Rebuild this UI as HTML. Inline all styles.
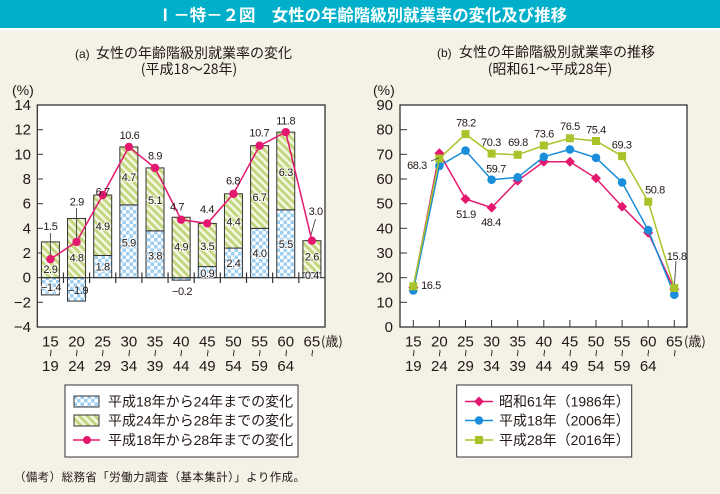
<!DOCTYPE html>
<html><head><meta charset="utf-8">
<style>
html,body{margin:0;padding:0;background:#f4f1e7;}
svg{display:block;}
text{font-family:"Liberation Sans","Noto Sans CJK JP",sans-serif;fill:#231815;}
.j{font-family:"Noto Sans CJK JP","Liberation Sans",sans-serif;}
.tk{font-size:15px;}
.dl{font-size:11px;letter-spacing:-0.4px;}
.in{font-size:11px;letter-spacing:-0.4px;stroke:#fff;stroke-width:2.2px;stroke-opacity:0.75;paint-order:stroke;}
.wv{font-size:13px;}
</style></head>
<body>
<svg width="720" height="494" viewBox="0 0 720 494" xmlns="http://www.w3.org/2000/svg">
<defs>
  <pattern id="chk" width="7" height="7" patternUnits="userSpaceOnUse">
    <rect width="7" height="7" fill="#ffffff"/>
    <rect x="0" y="0" width="3.5" height="3.5" fill="#9dcff2"/>
    <rect x="3.5" y="3.5" width="3.5" height="3.5" fill="#9dcff2"/>
  </pattern>
  <pattern id="str" width="6" height="5.5" patternUnits="userSpaceOnUse" patternTransform="rotate(45)">
    <rect width="6" height="5.5" fill="#f4f8e4"/>
    <rect x="0" y="0" width="6" height="3" fill="#c4d77f"/>
  </pattern>
</defs>

<!-- background & title -->
<rect x="0" y="0" width="720" height="494" fill="#f4f1e7"/>
<rect x="0" y="0" width="720" height="28" fill="#00b0ca"/>
<rect x="0" y="28" width="720" height="2.5" fill="#ffffff"/>
<text class="j" x="157" y="21" font-size="16.5" font-weight="bold" style="fill:#ffffff" textLength="410" lengthAdjust="spacingAndGlyphs">Ⅰ－特－２図　女性の年齢階級別就業率の変化及び推移</text>

<!-- subtitles -->
<text x="75" y="58" font-size="12">(a)</text>
<text class="j" x="96" y="58" font-size="14">女性の年齢階級別就業率の変化</text>
<text class="j" x="189" y="74" font-size="14" text-anchor="middle">(平成18～28年)</text>

<text x="437" y="57" font-size="12">(b)</text>
<text class="j" x="459" y="57" font-size="14">女性の年齢階級別就業率の推移</text>
<text class="j" x="550" y="74" font-size="14" text-anchor="middle">(昭和61～平成28年)</text>

<!-- ===== LEFT CHART ===== -->
<text x="12" y="95" font-size="14">(%)</text>
<rect x="37.3" y="105" width="287.7" height="222" fill="#ffffff"/>
<g class="tk" text-anchor="end">
  <text x="31" y="110">14</text>
  <text x="31" y="134.7">12</text>
  <text x="31" y="159.3">10</text>
  <text x="31" y="184">8</text>
  <text x="31" y="208.7">6</text>
  <text x="31" y="233.3">4</text>
  <text x="31" y="258">2</text>
  <text x="31" y="282.7">0</text>
  <text x="31" y="307.3">−2</text>
  <text x="31" y="332">−4</text>
</g>
<g stroke="#333" stroke-width="1">
  <line x1="37.3" y1="129.7" x2="43" y2="129.7"/>
  <line x1="37.3" y1="154.3" x2="43" y2="154.3"/>
  <line x1="37.3" y1="179" x2="43" y2="179"/>
  <line x1="37.3" y1="203.7" x2="43" y2="203.7"/>
  <line x1="37.3" y1="228.3" x2="43" y2="228.3"/>
  <line x1="37.3" y1="253" x2="43" y2="253"/>
  <line x1="37.3" y1="302.3" x2="43" y2="302.3"/>
</g>

<!-- bars -->
<g stroke="#333" stroke-width="1">
  <rect x="41.4" y="277.67" width="18" height="17.26" fill="url(#chk)"/>
  <rect x="41.4" y="241.9" width="18" height="35.77" fill="url(#str)"/>
  <rect x="67.55" y="277.67" width="18" height="23.43" fill="url(#chk)"/>
  <rect x="67.55" y="218.47" width="18" height="59.2" fill="url(#str)"/>
  <rect x="93.7" y="255.47" width="18" height="22.2" fill="url(#chk)"/>
  <rect x="93.7" y="195.04" width="18" height="60.43" fill="url(#str)"/>
  <rect x="119.85" y="204.9" width="18" height="72.77" fill="url(#chk)"/>
  <rect x="119.85" y="146.94" width="18" height="57.96" fill="url(#str)"/>
  <rect x="146" y="230.8" width="18" height="46.87" fill="url(#chk)"/>
  <rect x="146" y="167.91" width="18" height="62.89" fill="url(#str)"/>
  <rect x="172.15" y="277.67" width="18" height="2.47" fill="url(#chk)"/>
  <rect x="172.15" y="217.24" width="18" height="60.43" fill="url(#str)"/>
  <rect x="198.3" y="266.57" width="18" height="11.1" fill="url(#chk)"/>
  <rect x="198.3" y="223.4" width="18" height="43.17" fill="url(#str)"/>
  <rect x="224.45" y="248.07" width="18" height="29.6" fill="url(#chk)"/>
  <rect x="224.45" y="193.8" width="18" height="54.27" fill="url(#str)"/>
  <rect x="250.6" y="228.34" width="18" height="49.33" fill="url(#chk)"/>
  <rect x="250.6" y="145.7" width="18" height="82.64" fill="url(#str)"/>
  <rect x="276.75" y="209.84" width="18" height="67.83" fill="url(#chk)"/>
  <rect x="276.75" y="132.14" width="18" height="77.7" fill="url(#str)"/>
  <rect x="302.9" y="272.74" width="18" height="4.93" fill="url(#chk)"/>
  <rect x="302.9" y="240.67" width="18" height="32.07" fill="url(#str)"/>
</g>

<!-- zero line & category ticks -->
<g stroke="#333" stroke-width="1.2">
  <line x1="37.3" y1="277.67" x2="325" y2="277.67"/>
  <line x1="63.45" y1="272.5" x2="63.45" y2="283"/>
  <line x1="89.6" y1="272.5" x2="89.6" y2="283"/>
  <line x1="115.75" y1="272.5" x2="115.75" y2="283"/>
  <line x1="141.9" y1="272.5" x2="141.9" y2="283"/>
  <line x1="168.05" y1="272.5" x2="168.05" y2="283"/>
  <line x1="194.2" y1="272.5" x2="194.2" y2="283"/>
  <line x1="220.35" y1="272.5" x2="220.35" y2="283"/>
  <line x1="246.5" y1="272.5" x2="246.5" y2="283"/>
  <line x1="272.65" y1="272.5" x2="272.65" y2="283"/>
  <line x1="298.8" y1="272.5" x2="298.8" y2="283"/>
</g>
<rect x="37.3" y="105" width="287.7" height="222" fill="none" stroke="#333" stroke-width="1.3"/>

<!-- leader lines left -->
<g stroke="#444" stroke-width="0.9">
  <line x1="50.4" y1="233" x2="50.4" y2="255"/>
  <line x1="76.55" y1="208" x2="76.55" y2="238"/>
  <line x1="315.5" y1="219" x2="311" y2="235"/>
</g>

<!-- line series -->
<polyline fill="none" stroke="#e5186f" stroke-width="1.5" points="50.4,259.17 76.55,241.9 102.7,195.04 128.85,146.94 155,167.91 181.15,219.7 207.3,223.4 233.45,193.8 259.6,145.7 285.75,132.14 311.9,240.67"/>
<g fill="#e5186f">
  <circle cx="50.4" cy="259.17" r="4.2"/>
  <circle cx="76.55" cy="241.9" r="4.2"/>
  <circle cx="102.7" cy="195.04" r="4.2"/>
  <circle cx="128.85" cy="146.94" r="4.2"/>
  <circle cx="155" cy="167.91" r="4.2"/>
  <circle cx="181.15" cy="219.7" r="4.2"/>
  <circle cx="207.3" cy="223.4" r="4.2"/>
  <circle cx="233.45" cy="193.8" r="4.2"/>
  <circle cx="259.6" cy="145.7" r="4.2"/>
  <circle cx="285.75" cy="132.14" r="4.2"/>
  <circle cx="311.9" cy="240.67" r="4.2"/>
</g>

<!-- data labels left -->
<g class="dl" text-anchor="middle">
  <text x="50.4" y="230">1.5</text>
  <text x="76.8" y="205.5">2.9</text>
  <text x="102.7" y="195.5">6.7</text>
  <text x="129.5" y="139">10.6</text>
  <text x="155" y="159.5">8.9</text>
  <text x="177" y="210.5">4.7</text>
  <text x="207" y="213">4.4</text>
  <text x="233" y="184.5">6.8</text>
  <text x="259.3" y="136.5">10.7</text>
  <text x="285.7" y="124.5">11.8</text>
  <text x="315.7" y="215">3.0</text>
  <text x="78" y="294">−1.9</text>
  <text x="182" y="295">−0.2</text>
</g>
<g class="in" text-anchor="middle">
  <text x="50.4" y="273">2.9</text>
  <text x="51" y="291">−1.4</text>
  <text x="76.55" y="261.5">4.8</text>
  <text x="102.7" y="230">4.9</text>
  <text x="102.7" y="270.5">1.8</text>
  <text x="128.85" y="181">4.7</text>
  <text x="128.85" y="246.5">5.9</text>
  <text x="155" y="204">5.1</text>
  <text x="155" y="259.5">3.8</text>
  <text x="181.15" y="250.5">4.9</text>
  <text x="207.3" y="250">3.5</text>
  <text x="207.3" y="277">0.9</text>
  <text x="233.45" y="225.5">4.4</text>
  <text x="233.45" y="267">2.4</text>
  <text x="259.6" y="201">6.7</text>
  <text x="259.6" y="257">4.0</text>
  <text x="285.75" y="176">6.3</text>
  <text x="285.75" y="248">5.5</text>
  <text x="311.9" y="260.5">2.6</text>
  <text x="311.9" y="279">0.4</text>
</g>

<!-- x labels left -->
<g class="tk" text-anchor="middle">
  <text x="50.4" y="346.5">15</text><text x="50.4" y="371">19</text>
  <text x="76.55" y="346.5">20</text><text x="76.55" y="371">24</text>
  <text x="102.7" y="346.5">25</text><text x="102.7" y="371">29</text>
  <text x="128.85" y="346.5">30</text><text x="128.85" y="371">34</text>
  <text x="155" y="346.5">35</text><text x="155" y="371">39</text>
  <text x="181.15" y="346.5">40</text><text x="181.15" y="371">44</text>
  <text x="207.3" y="346.5">45</text><text x="207.3" y="371">49</text>
  <text x="233.45" y="346.5">50</text><text x="233.45" y="371">54</text>
  <text x="259.6" y="346.5">55</text><text x="259.6" y="371">59</text>
  <text x="285.75" y="346.5">60</text><text x="285.75" y="371">64</text>
  <text x="311.9" y="346.5">65</text>
</g>
<g class="wv">
  <text transform="translate(50.4,353) rotate(90)" text-anchor="middle" dy="4">~</text>
  <text transform="translate(76.55,353) rotate(90)" text-anchor="middle" dy="4">~</text>
  <text transform="translate(102.7,353) rotate(90)" text-anchor="middle" dy="4">~</text>
  <text transform="translate(128.85,353) rotate(90)" text-anchor="middle" dy="4">~</text>
  <text transform="translate(155,353) rotate(90)" text-anchor="middle" dy="4">~</text>
  <text transform="translate(181.15,353) rotate(90)" text-anchor="middle" dy="4">~</text>
  <text transform="translate(207.3,353) rotate(90)" text-anchor="middle" dy="4">~</text>
  <text transform="translate(233.45,353) rotate(90)" text-anchor="middle" dy="4">~</text>
  <text transform="translate(259.6,353) rotate(90)" text-anchor="middle" dy="4">~</text>
  <text transform="translate(285.75,353) rotate(90)" text-anchor="middle" dy="4">~</text>
  <text transform="translate(311.9,353) rotate(90)" text-anchor="middle" dy="4">~</text>
</g>
<text class="j" x="321" y="346" font-size="13">(歳)</text>

<!-- legend left -->
<rect x="65" y="385" width="233" height="72" fill="#ffffff" stroke="#333" stroke-width="1"/>
<rect x="74" y="396" width="25" height="11" fill="url(#chk)" stroke="#333" stroke-width="1"/>
<rect x="74" y="415" width="25" height="11" fill="url(#str)" stroke="#333" stroke-width="1"/>
<line x1="73" y1="440" x2="100" y2="440" stroke="#e5186f" stroke-width="1.5"/>
<circle cx="87" cy="440" r="4" fill="#e5186f"/>
<g class="j" font-size="14">
  <text x="108" y="406.5">平成18年から24年までの変化</text>
  <text x="108" y="425.5">平成24年から28年までの変化</text>
  <text x="108" y="445">平成18年から28年までの変化</text>
</g>

<!-- ===== RIGHT CHART ===== -->
<text x="373" y="95" font-size="14">(%)</text>
<rect x="400" y="105" width="287" height="222" fill="#ffffff"/>
<g class="tk" text-anchor="end">
  <text x="393" y="110">90</text>
  <text x="393" y="134.7">80</text>
  <text x="393" y="159.3">70</text>
  <text x="393" y="184">60</text>
  <text x="393" y="208.7">50</text>
  <text x="393" y="233.3">40</text>
  <text x="393" y="258">30</text>
  <text x="393" y="282.7">20</text>
  <text x="393" y="307.3">10</text>
  <text x="393" y="332">0</text>
</g>
<g stroke="#333" stroke-width="1">
  <line x1="400" y1="129.7" x2="407" y2="129.7"/>
  <line x1="400" y1="154.3" x2="407" y2="154.3"/>
  <line x1="400" y1="179" x2="407" y2="179"/>
  <line x1="400" y1="203.7" x2="407" y2="203.7"/>
  <line x1="400" y1="228.3" x2="407" y2="228.3"/>
  <line x1="400" y1="253" x2="407" y2="253"/>
  <line x1="400" y1="277.7" x2="407" y2="277.7"/>
  <line x1="400" y1="302.3" x2="407" y2="302.3"/>
  <line x1="413.3" y1="320" x2="413.3" y2="327"/>
  <line x1="439.4" y1="320" x2="439.4" y2="327"/>
  <line x1="465.5" y1="320" x2="465.5" y2="327"/>
  <line x1="491.6" y1="320" x2="491.6" y2="327"/>
  <line x1="517.7" y1="320" x2="517.7" y2="327"/>
  <line x1="543.8" y1="320" x2="543.8" y2="327"/>
  <line x1="569.9" y1="320" x2="569.9" y2="327"/>
  <line x1="596" y1="320" x2="596" y2="327"/>
  <line x1="622.1" y1="320" x2="622.1" y2="327"/>
  <line x1="648.2" y1="320" x2="648.2" y2="327"/>
  <line x1="674.3" y1="320" x2="674.3" y2="327"/>
</g>
<rect x="400" y="105" width="287" height="222" fill="none" stroke="#333" stroke-width="1.3"/>

<!-- pink 1986 -->
<polyline fill="none" stroke="#e5186f" stroke-width="1.5" points="413.3,287.5 439.4,153.3 465.5,199 491.6,207.6 517.7,180.7 543.8,161.7 569.9,161.7 596,178.3 622.1,206.6 648.2,232.8 674.3,289.3"/>
<g fill="#e5186f">
  <path d="M413.3,282.5 L418.3,287.5 L413.3,292.5 L408.3,287.5Z"/>
  <path d="M439.4,148.3 L444.4,153.3 L439.4,158.3 L434.4,153.3Z"/>
  <path d="M465.5,194 L470.5,199 L465.5,204 L460.5,199Z"/>
  <path d="M491.6,202.6 L496.6,207.6 L491.6,212.6 L486.6,207.6Z"/>
  <path d="M517.7,175.7 L522.7,180.7 L517.7,185.7 L512.7,180.7Z"/>
  <path d="M543.8,156.7 L548.8,161.7 L543.8,166.7 L538.8,161.7Z"/>
  <path d="M569.9,156.7 L574.9,161.7 L569.9,166.7 L564.9,161.7Z"/>
  <path d="M596,173.3 L601,178.3 L596,183.3 L591,178.3Z"/>
  <path d="M622.1,201.6 L627.1,206.6 L622.1,211.6 L617.1,206.6Z"/>
  <path d="M648.2,227.8 L653.2,232.8 L648.2,237.8 L643.2,232.8Z"/>
  <path d="M674.3,284.3 L679.3,289.3 L674.3,294.3 L669.3,289.3Z"/>
</g>

<!-- blue 2006 -->
<polyline fill="none" stroke="#1a8ddb" stroke-width="1.5" points="413.3,290.5 439.4,165.9 465.5,150.6 491.6,179.7 517.7,177.3 543.8,156.8 569.9,149.4 596,157.8 622.1,182.4 648.2,230.1 674.3,294.7"/>
<g fill="#1a8ddb">
  <circle cx="413.3" cy="290.5" r="4.3"/>
  <circle cx="439.4" cy="165.9" r="4.3"/>
  <circle cx="465.5" cy="150.6" r="4.3"/>
  <circle cx="491.6" cy="179.7" r="4.3"/>
  <circle cx="517.7" cy="177.3" r="4.3"/>
  <circle cx="543.8" cy="156.8" r="4.3"/>
  <circle cx="569.9" cy="149.4" r="4.3"/>
  <circle cx="596" cy="157.8" r="4.3"/>
  <circle cx="622.1" cy="182.4" r="4.3"/>
  <circle cx="648.2" cy="230.1" r="4.3"/>
  <circle cx="674.3" cy="294.7" r="4.3"/>
</g>

<!-- green 2016 -->
<polyline fill="none" stroke="#a9c42a" stroke-width="1.5" points="413.3,286.3 439.4,158.5 465.5,134.1 491.6,153.6 517.7,154.8 543.8,145.5 569.9,138.3 596,141 622.1,156.1 648.2,201.7 674.3,288"/>
<g fill="#a9c42a">
  <rect x="409.3" y="282.3" width="8" height="8"/>
  <rect x="435.4" y="154.5" width="8" height="8"/>
  <rect x="461.5" y="130.1" width="8" height="8"/>
  <rect x="487.6" y="149.6" width="8" height="8"/>
  <rect x="513.7" y="150.8" width="8" height="8"/>
  <rect x="539.8" y="141.5" width="8" height="8"/>
  <rect x="565.9" y="134.3" width="8" height="8"/>
  <rect x="592" y="137" width="8" height="8"/>
  <rect x="618.1" y="152.1" width="8" height="8"/>
  <rect x="644.2" y="197.7" width="8" height="8"/>
  <rect x="670.3" y="284" width="8" height="8"/>
</g>

<!-- leader lines right -->
<g stroke="#444" stroke-width="0.9">
  <line x1="431" y1="161" x2="439" y2="158"/>
  <line x1="676" y1="261" x2="674.5" y2="284"/>
</g>

<!-- data labels right -->
<g class="dl" text-anchor="middle">
  <text x="431" y="289">16.5</text>
  <text x="417" y="169">68.3</text>
  <text x="466" y="126.5">78.2</text>
  <text x="491" y="146">70.3</text>
  <text x="518" y="146">69.8</text>
  <text x="496" y="172.5">59.7</text>
  <text x="466" y="218">51.9</text>
  <text x="491" y="226">48.4</text>
  <text x="544" y="137.5">73.6</text>
  <text x="570" y="130">76.5</text>
  <text x="596" y="133.5">75.4</text>
  <text x="621.7" y="148.5">69.3</text>
  <text x="655" y="193.5">50.8</text>
  <text x="676.7" y="260">15.8</text>
</g>

<!-- x labels right -->
<g class="tk" text-anchor="middle">
  <text x="413.3" y="346.5">15</text><text x="413.3" y="371">19</text>
  <text x="439.4" y="346.5">20</text><text x="439.4" y="371">24</text>
  <text x="465.5" y="346.5">25</text><text x="465.5" y="371">29</text>
  <text x="491.6" y="346.5">30</text><text x="491.6" y="371">34</text>
  <text x="517.7" y="346.5">35</text><text x="517.7" y="371">39</text>
  <text x="543.8" y="346.5">40</text><text x="543.8" y="371">44</text>
  <text x="569.9" y="346.5">45</text><text x="569.9" y="371">49</text>
  <text x="596" y="346.5">50</text><text x="596" y="371">54</text>
  <text x="622.1" y="346.5">55</text><text x="622.1" y="371">59</text>
  <text x="648.2" y="346.5">60</text><text x="648.2" y="371">64</text>
  <text x="674.3" y="346.5">65</text>
</g>
<g class="wv">
  <text transform="translate(413.3,353) rotate(90)" text-anchor="middle" dy="4">~</text>
  <text transform="translate(439.4,353) rotate(90)" text-anchor="middle" dy="4">~</text>
  <text transform="translate(465.5,353) rotate(90)" text-anchor="middle" dy="4">~</text>
  <text transform="translate(491.6,353) rotate(90)" text-anchor="middle" dy="4">~</text>
  <text transform="translate(517.7,353) rotate(90)" text-anchor="middle" dy="4">~</text>
  <text transform="translate(543.8,353) rotate(90)" text-anchor="middle" dy="4">~</text>
  <text transform="translate(569.9,353) rotate(90)" text-anchor="middle" dy="4">~</text>
  <text transform="translate(596,353) rotate(90)" text-anchor="middle" dy="4">~</text>
  <text transform="translate(622.1,353) rotate(90)" text-anchor="middle" dy="4">~</text>
  <text transform="translate(648.2,353) rotate(90)" text-anchor="middle" dy="4">~</text>
  <text transform="translate(674.3,353) rotate(90)" text-anchor="middle" dy="4">~</text>
</g>
<text class="j" x="684" y="346" font-size="13">(歳)</text>

<!-- legend right -->
<rect x="456.7" y="385" width="175" height="72" fill="#ffffff" stroke="#333" stroke-width="1"/>
<line x1="465" y1="401.5" x2="493" y2="401.5" stroke="#e5186f" stroke-width="1.5"/>
<path d="M479,396.5 L484,401.5 L479,406.5 L474,401.5Z" fill="#e5186f"/>
<line x1="465" y1="420.5" x2="493" y2="420.5" stroke="#1a8ddb" stroke-width="1.5"/>
<circle cx="479" cy="420.5" r="4.2" fill="#1a8ddb"/>
<line x1="465" y1="440" x2="493" y2="440" stroke="#a9c42a" stroke-width="1.5"/>
<rect x="475" y="436" width="8" height="8" fill="#a9c42a"/>
<g class="j" font-size="14">
  <text x="499" y="406.5">昭和61年（1986年）</text>
  <text x="499" y="425.5">平成18年（2006年）</text>
  <text x="499" y="445">平成28年（2016年）</text>
</g>

<!-- footer -->
<text class="j" x="14" y="481" font-size="11.5" textLength="291" lengthAdjust="spacing">（備考）総務省「労働力調査（基本集計）」より作成。</text>
</svg>
</body></html>
